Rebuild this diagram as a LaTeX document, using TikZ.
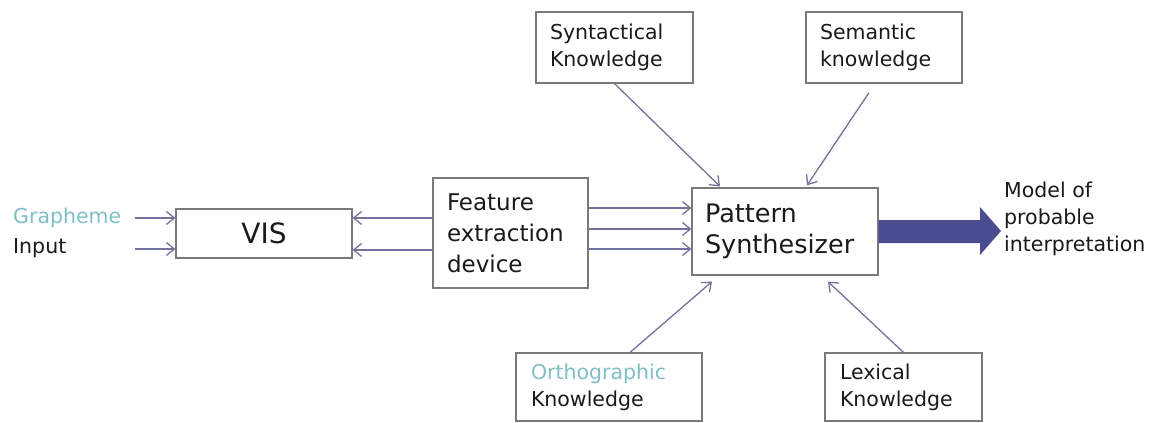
\documentclass[tikz,border=0pt]{standalone}
\usepackage{fontspec}
\setmainfont{DejaVu Sans}
\usetikzlibrary{arrows.meta}
\definecolor{boxc}{HTML}{7A7A7A}
\definecolor{arrc}{HTML}{72729C}
\definecolor{teal}{HTML}{7FBFC4}
\definecolor{navy}{HTML}{4B4B8F}
\definecolor{txt}{HTML}{1A1A1A}
\begin{document}
\begin{tikzpicture}[x=1pt,y=-1pt,
  kbox/.style={draw=boxc, line width=1.2pt, inner ysep=0pt, align=left, text=txt,
    font=\fontsize{20.5}{27}\selectfont},
  lbl/.style={inner sep=0pt, anchor=west, align=left, text=txt,
    font=\fontsize{20.5}{27}\selectfont},
  thin/.style={draw=arrc, line width=1.3pt, -{Straight Barb[length=8pt,width=13pt]}}
]
\useasboundingbox (0,0) rectangle (1162,423);
% boxes
\node[kbox, minimum width=176pt, minimum height=49pt, inner xsep=0pt, align=center,
  font=\fontsize{28}{32}\selectfont] (vis) at (264,233.5) {VIS};
\node[kbox, inner xsep=14pt, text width=127pt, minimum height=110pt,
  font=\fontsize{23}{31}\selectfont] (fe) at (510.5,233) {Feature\\extraction\\device};
\node[kbox, inner xsep=13pt, text width=160pt, minimum height=87pt,
  font=\fontsize{25.5}{31}\selectfont] (pat) at (785,231.5) {Pattern\\Synthesizer};
\node[kbox, inner xsep=14pt, text width=129pt, minimum height=71pt] (syn) at (614.5,47.5) {Syntactical\\Knowledge};
\node[kbox, inner xsep=14pt, text width=128pt, minimum height=71pt] (sem) at (884,47.5) {Semantic\\knowledge};
\node[kbox, inner xsep=15pt, text width=156pt, minimum height=68pt] (orth) at (609,387) {\textcolor{teal}{Orthographic}\\Knowledge};
\node[kbox, inner xsep=15pt, text width=127pt, minimum height=68pt] (lex) at (903.5,387) {Lexical\\Knowledge};
% labels
\node[lbl, text=teal] (graph) at (13,218) {Grapheme};
\node[lbl] (inp) at (13,248) {Input};
\node[lbl] (model) at (1004,219) {Model of\\probable\\interpretation};
% input arrows
\coordinate (g1) at (135,218);
\coordinate (g2) at (135,249);
\draw[thin] (g1) -- (vis.west |- g1);
\draw[thin] (g2) -- (vis.west |- g2);
% feature -> VIS
\draw[thin] (fe.west |- 0,218) -- (vis.east |- 0,218);
\draw[thin] (fe.west |- 0,250) -- (vis.east |- 0,250);
% feature -> pattern
\draw[thin] (fe.east |- 0,208) -- (pat.west |- 0,208);
\draw[thin] (fe.east |- 0,229) -- (pat.west |- 0,229);
\draw[thin] (fe.east |- 0,249) -- (pat.west |- 0,249);
% knowledge -> pattern
\draw[thin] (syn.south) -- ([xshift=-65pt,yshift=1pt]pat.north);
\draw[thin, shorten <=11pt] ([xshift=-9pt]sem.south) -- ([xshift=22pt,yshift=2pt]pat.north);
\draw[thin] ([xshift=21pt]orth.north) -- ([xshift=-73pt,yshift=-6pt]pat.south);
\draw[thin] (lex.north) -- ([xshift=43pt,yshift=-6pt]pat.south);
% output arrow
\fill[navy] (pat.east |- 0,220) -- (980,220) -- (980,207) -- (1001,231) -- (980,255) -- (980,243) -- (pat.east |- 0,243) -- cycle;
\end{tikzpicture}
\end{document}
